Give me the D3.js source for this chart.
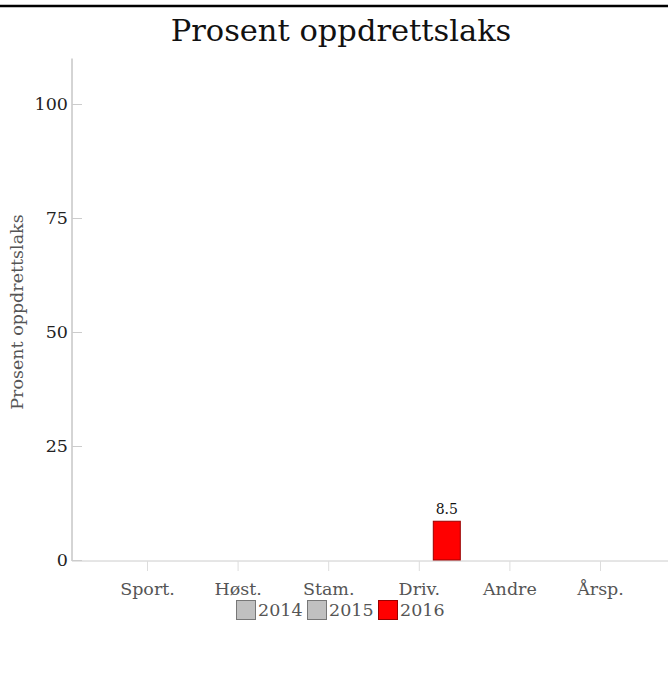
<!DOCTYPE html>
<html><head><meta charset="utf-8">
<script src="https://cdn.jsdelivr.net/npm/d3@7"></script>
<style>
body{margin:0;background:#fff;}
svg{display:block;font-family:"DejaVu Serif",serif;}
</style></head>
<body><svg id="chart" width="668" height="699"></svg>
<script>
const title = "Prosent oppdrettslaks";
const yLabel = "Prosent oppdrettslaks";
const categories = ["Sport.", "Høst.", "Stam.", "Driv.", "Andre", "Årsp."];
const years = ["2014", "2015", "2016"];
const values2014 = [null, null, null, null, null, null];
const values2015 = [null, null, null, null, null, null];
const values2016 = [null, null, null, 8.5, null, null];
const yTicks = [0, 25, 50, 75, 100];
const colors = ["#c0c0c0", "#c0c0c0", "#ff0000"];
const strokes = ["#777777", "#777777", "#990000"];

const series = [values2014, values2015, values2016];
const svg = d3.select("#chart");

svg.append("line").attr("x1",0).attr("x2",668).attr("y1",6).attr("y2",6)
  .attr("stroke","#000").attr("stroke-width",2.5);

svg.append("text").attr("x",341).attr("y",41).attr("text-anchor","middle")
  .attr("font-size",30.5).attr("fill","#111").text(title);

const y = d3.scaleLinear().domain([0,110]).range([560,58.4]);
const x0 = d3.scaleBand().domain(categories).range([101.7,645.3])
  .paddingInner(0.073).paddingOuter(0.0365);
const x1 = d3.scaleBand().domain(years).range([0,x0.bandwidth()]);

// y axis
const ya = svg.append("g").attr("transform","translate(72,0)")
  .call(d3.axisRight(y).tickValues(yTicks).tickSize(10).tickFormat(""));
ya.select(".domain").attr("stroke","#aaa").attr("d","M0,58.5V561");
ya.selectAll(".tick line").attr("stroke","#ccc");
svg.append("g").selectAll("text").data(yTicks).join("text")
  .attr("x",68).attr("y",d=>y(d)).attr("dy","0.35em").attr("text-anchor","end")
  .attr("font-size",17.5).attr("fill","#222").text(d=>d);

// x axis
const xa = svg.append("g").attr("transform","translate(0,561)")
  .call(d3.axisBottom(d3.scalePoint().domain(categories)
     .range([x0(categories[0])+x0.bandwidth()/2, x0(categories[5])+x0.bandwidth()/2]))
     .tickSize(10).tickPadding(12));
xa.select(".domain").attr("stroke","#ccc").attr("d","M72,0H668");
xa.selectAll(".tick line").attr("stroke","#ddd");
xa.selectAll(".tick text").attr("font-size",17.5).attr("fill","#555")
  .attr("font-family","DejaVu Serif, serif");

svg.append("text").attr("transform","translate(23,312) rotate(-90)")
  .attr("text-anchor","middle").attr("font-size",17.5).attr("fill","#555").text(yLabel);

// bars
const g = svg.append("g");
series.forEach((vals,si)=>{
  categories.forEach((c,ci)=>{
    const v = vals[ci];
    if(v==null) return;
    const bx = x0(c)+x1(years[si]);
    g.append("rect").attr("x",bx+0.5).attr("y",y(v)).attr("width",x1.bandwidth()-1)
      .attr("height",y(0)-y(v)).attr("fill",colors[si]).attr("stroke",strokes[si]).attr("stroke-width",1);
    g.append("text").attr("x",bx+x1.bandwidth()/2).attr("y",y(v)-7).attr("text-anchor","middle")
      .attr("font-size",14).attr("fill","#111").text(v);
  });
});

// legend
const legendX = [236, 307, 378];
const lg = svg.append("g");
years.forEach((yr,i)=>{
  lg.append("rect").attr("x",legendX[i]+0.5).attr("y",600.5).attr("width",19).attr("height",19)
    .attr("fill",colors[i]).attr("stroke",strokes[i]).attr("stroke-width",1);
  lg.append("text").attr("x",legendX[i]+22).attr("y",616).attr("font-size",17.5)
    .attr("fill","#555").text(yr);
});
</script></body></html>
